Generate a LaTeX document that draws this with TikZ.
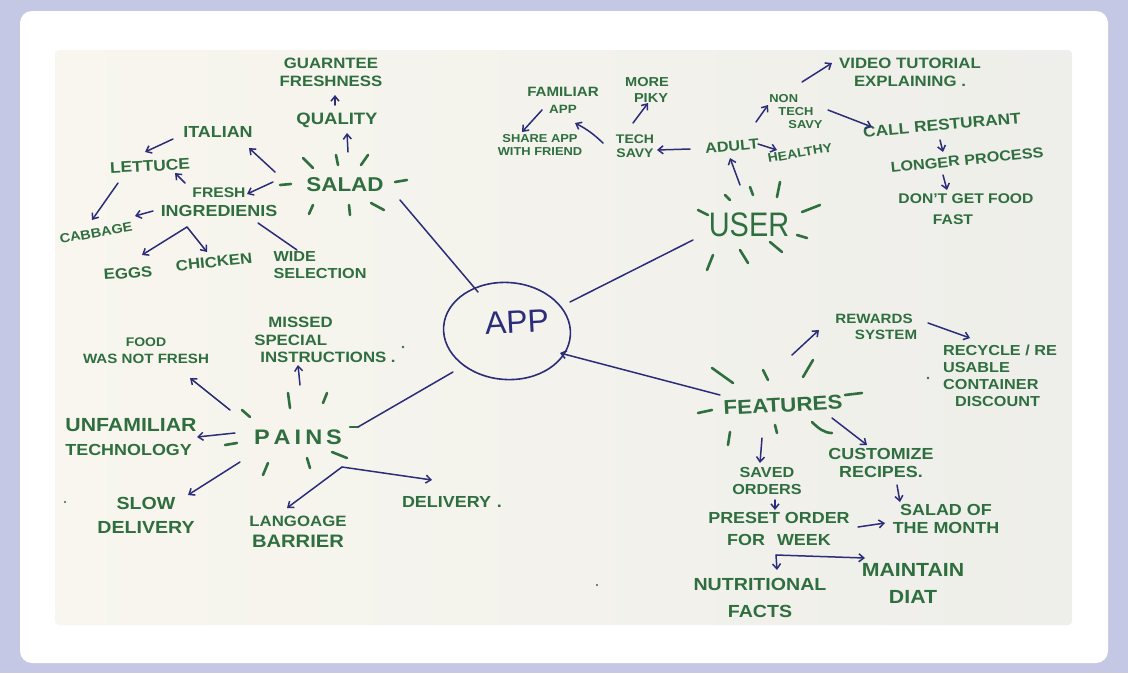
\documentclass[tikz,border=0pt]{standalone}
\usepackage{fontspec}
\setmainfont{Liberation Sans}[BoldFeatures={FakeStretch=1.12}]
\usetikzlibrary{arrows.meta,shapes.geometric}
\definecolor{lav}{RGB}{197,200,228}
\definecolor{boardA}{RGB}{248,246,238}
\definecolor{boardB}{RGB}{238,238,234}
\definecolor{mk}{RGB}{47,110,62}
\definecolor{nv}{RGB}{43,45,120}
\tikzset{
  g/.style 2 args={text=mk,font=\bfseries\fontsize{#1}{#2}\selectfont,align=center,inner sep=1pt},
  arr/.style={draw=nv,line width=1.5pt,line cap=round,-{Straight Barb[length=5pt,width=8pt]}},
  ln/.style={draw=nv,line width=1.5pt,line cap=round},
  ray/.style={draw=mk,line width=2.6pt,line cap=round},
  dot/.style={fill=mk,draw=none}
}
\begin{document}
\begin{tikzpicture}[x=1pt,y=-1pt]
\useasboundingbox (0,0) rectangle (1128,673);
\fill[lav] (0,0) rectangle (1128,673);
\fill[white,rounded corners=12pt] (20,11) rectangle (1108,663);
\shade[left color=boardA,right color=boardB,rounded corners=4pt] (55,50) rectangle (1072,625);

% ---------------- SALAD ----------------
\node[g={15}{18}] (guar) at (331,72) {GUARNTEE\\FRESHNESS};
\node[g={16.5}{20}] (quality) at (337,120) {QUALITY};
\node[g={16}{20}] (italian) at (218,132) {ITALIAN};
\node[g={15.5}{19},rotate=3] (lettuce) at (150,166) {LETTUCE};
\node[g={16}{19}] (fresh) at (219,202) {{\fontsize{14}{19}\selectfont FRESH}\\INGREDIENIS};
\node[g={13}{16},rotate=10] (cabbage) at (96,233) {CABBAGE};
\node[g={15}{18},rotate=4] (eggs) at (128,273) {EGGS};
\node[g={15}{18},rotate=6] (chicken) at (214,262) {CHICKEN};
\node[g={14.5}{17},align=left] (wide) at (320,265) {WIDE\\SELECTION};
\node[g={20}{24}] (salad) at (345,185) {SALAD};

\foreach \a/\b/\c/\d in {303/158/313/168,336/155/338/165,361/165/368/155,280/185/291/184,395/182/407/180,313/205/309/214,349/205/350/215,371/203/384/210}
  \draw[ray] (\a,\b) -- (\c,\d);

\draw[arr] ([shift={(3,-33)}]salad.center) -- ([shift={(10,13)}]quality.center);
\draw[arr] ([shift={(-2,-15)}]quality.center) -- ([shift={(4,23)}]guar.center);
\draw[arr] ([shift={(-70,-13)}]salad.center) -- ([shift={(31,16)}]italian.center);
\draw[arr] ([shift={(-72,-3)}]salad.center) -- ([shift={(28,-8)}]fresh.center);
\draw[arr] ([shift={(-45,7)}]italian.center) -- ([shift={(-5,-14)}]lettuce.center);
\draw[arr] ([shift={(-34,-19)}]fresh.center) -- ([shift={(25,7)}]lettuce.center);
\draw[arr] ([shift={(-66,9)}]fresh.center) -- ([shift={(39,-17)}]cabbage.center);
\draw[arr] ([shift={(-32,17)}]lettuce.center) -- ([shift={(-4,-13)}]cabbage.center);
\draw[arr] ([shift={(-32,25)}]fresh.center) -- ([shift={(14,-18)}]eggs.center);
\draw[arr] ([shift={(-32,25)}]fresh.center) -- ([shift={(-7,-10)}]chicken.center);
\draw[ln] ([shift={(39,21)}]fresh.center) -- ([shift={(-23,-15)}]wide.center);

% ---------------- APP ----------------
\node[draw=nv,line width=1.6pt,ellipse,minimum width=127pt,minimum height=97pt,inner sep=0pt,rotate=-4] (app) at (507,331) {};
\node[text=nv,font=\fontsize{32}{34}\selectfont,rotate=3] (apptxt) at (517,322) {APP};
\draw[ln] ([shift={(55,15)}]salad.center) -- ([shift={(-29,-39)}]app.center);

% ---------------- USER ----------------
\node[g={13.5}{17}] (familiar) at (563,100) {FAMILIAR\\{\fontsize{12}{17}\selectfont APP}};
\node[g={11.5}{13.5}] (share) at (540,145) {SHARE APP\\WITH FRIEND};
\node[g={13}{15.5}] (morepiky) at (647,90) {MORE\\\hspace*{8pt}PIKY};
\node[g={12.5}{14.5}] (techsavy) at (635,146) {TECH\\SAVY};
\node[g={14.5}{18},rotate=5] (adult) at (732,146) {ADULT};
\node[g={11.5}{13},align=left] (nontech) at (796,112) {NON\\\hspace*{9pt}TECH\\\hspace*{19pt}SAVY};
\node[g={12.5}{16},rotate=10] (healthy) at (800,153) {HEALTHY};
\node[g={15}{18}] (video) at (910,72) {VIDEO TUTORIAL\\EXPLAINING .};
\node[g={15.5}{19},rotate=5] (callr) at (942,125) {CALL RESTURANT};
\node[g={14.5}{18},rotate=6] (longer) at (967,160) {LONGER PROCESS};
\node[g={14}{21}] (dont) at (966,209) {DON'T GET FOOD\\FAST\hspace*{26pt}};
\node[text=mk,font=\fontsize{34}{36}\selectfont,xscale=0.85] (user) at (749,225) {USER};

\foreach \a/\b/\c/\d in {698/210/708/215,725/195/730/200,750/187/753/195,780/182/777/197,802/212/820/205,797/235/807/238,770/242/782/252,740/250/748/263,713/255/707/270}
  \draw[ray] (\a,\b) -- (\c,\d);

\draw[arr] ([shift={(-9,-40)}]user.center) -- ([shift={(-2,12)}]adult.center);
\draw[arr] ([shift={(-42,3)}]adult.center) -- ([shift={(22,4)}]techsavy.center);
\draw[arr] ([shift={(-2,-23)}]techsavy.center) -- ([shift={(1,13)}]morepiky.center);
\draw[arr] ([shift={(-32,-3)}]techsavy.center) to[bend right=8] ([shift={(35,-22)}]share.center);
\draw[arr] ([shift={(-21,10)}]familiar.center) -- ([shift={(-18,-13)}]share.center);
\draw[arr] ([shift={(24,-24)}]adult.center) -- ([shift={(-28,-7)}]nontech.center);
\draw[arr] ([shift={(26,-2)}]adult.center) -- ([shift={(-23,-3)}]healthy.center);
\draw[arr] ([shift={(6,-30)}]nontech.center) -- ([shift={(-78,-9)}]video.center);
\draw[arr] ([shift={(32,-2)}]nontech.center) -- ([shift={(-70,2)}]callr.center);
\draw[arr] ([shift={(-2,15)}]callr.center) -- ([shift={(-24,-8)}]longer.center);
\draw[arr] ([shift={(-24,15)}]longer.center) -- ([shift={(-19,-19)}]dont.center);
\draw[ln] ([shift={(-56,15)}]user.center) -- ([shift={(63,-29)}]app.center);

% ---------------- PAINS ----------------
\node[g={13.5}{17}] (food) at (146,351) {{\fontsize{12.5}{17}\selectfont FOOD}\\WAS NOT FRESH};
\node[g={15}{17.5},align=left] (missed) at (325,340) {\hspace*{14pt}MISSED\\SPECIAL\\\hspace*{6pt}INSTRUCTIONS .};
\node[g={16}{24},align=left] (unfam) at (131,437) {{\fontsize{19}{24}\selectfont UNFAMILIAR}\\TECHNOLOGY};
\node[g={17.5}{24}] (slow) at (146,515) {SLOW\\DELIVERY};
\node[g={18}{21}] (lang) at (298,532) {{\fontsize{15}{21}\selectfont LANGOAGE}\\BARRIER};
\node[g={16}{20}] (deliv) at (452,502) {DELIVERY\hspace{6pt}.};
\node[g={21}{25}] (pains) at (298,437) {P\hspace{4pt}A\hspace{4pt}I\hspace{4pt}N\hspace{4pt}S};

\foreach \a/\b/\c/\d in {242/410/250/417,288/393/290/408,327/393/323/403,225/445/237/443,350/427/358/427,268/463/263/475,307/458/310/468,332/452/347/458}
  \draw[ray] (\a,\b) -- (\c,\d);

\draw[arr] ([shift={(2,-52)}]pains.center) -- ([shift={(-27,25)}]missed.center);
\draw[arr] ([shift={(-68,-27)}]pains.center) -- ([shift={(44,27)}]food.center);
\draw[arr] ([shift={(-63,-4)}]pains.center) -- ([shift={(66,0)}]unfam.center);
\draw[arr] ([shift={(-58,25)}]pains.center) -- ([shift={(42,-20)}]slow.center);
\draw[arr] ([shift={(44,30)}]pains.center) -- ([shift={(-11,-24)}]lang.center);
\draw[arr] ([shift={(44,30)}]pains.center) -- ([shift={(-20,-22)}]deliv.center);
\draw[ln] ([shift={(60,-10)}]pains.center) -- ([shift={(-54,41)}]app.center);

% ---------------- FEATURES ----------------
\node[g={13.5}{16}] (rewards) at (874,327) {REWARDS\\\hspace*{24pt}SYSTEM};
\node[g={14.5}{17},align=left] (recycle) at (1000,376) {RECYCLE / RE\\USABLE\\CONTAINER\\\hspace*{12pt}DISCOUNT};
\node[g={20}{24},rotate=3] (features) at (783,405) {FEATURES};
\node[g={16}{18.5}] (customize) at (881,463) {CUSTOMIZE\\RECIPES.};
\node[g={14.5}{17}] (saved) at (767,481) {SAVED\\ORDERS};
\node[g={16}{22}] (preset) at (779,529) {PRESET ORDER\\FOR\hspace{12pt}WEEK};
\node[g={16}{18.5}] (salmonth) at (946,519) {SALAD OF\\THE MONTH};
\node[g={17.5}{27}] (nutri) at (760,598) {NUTRITIONAL\\FACTS};
\node[g={19}{27}] (maintain) at (913,583) {MAINTAIN\\DIAT};

\foreach \a/\b/\c/\d in {712/368/733/383,763/370/768/380,813/360/803/377,698/413/712/410,845/395/862/393,730/432/728/445,775/425/777/433}
  \draw[ray] (\a,\b) -- (\c,\d);
\draw[ray] (812,422) .. controls (818,428) and (824,433) .. (832,433);

\draw[arr] ([shift={(9,-50)}]features.center) -- ([shift={(-55,3)}]rewards.center);
\draw[arr] ([shift={(54,-4)}]rewards.center) -- ([shift={(-30,-38)}]recycle.center);
\draw[arr] ([shift={(-21,33)}]features.center) -- ([shift={(-7,-18)}]saved.center);
\draw[arr] ([shift={(49,13)}]features.center) -- ([shift={(-14,-18)}]customize.center);
\draw[arr] ([shift={(16,22)}]customize.center) -- ([shift={(-46,-17)}]salmonth.center);
\draw[arr] ([shift={(8,19)}]saved.center) -- ([shift={(-4,-19)}]preset.center);
\draw[arr] ([shift={(79,-2)}]preset.center) -- ([shift={(-61,4)}]salmonth.center);
\draw[arr] ([shift={(-3,26)}]preset.center) -- ([shift={(17,-28)}]nutri.center);
\draw[arr] ([shift={(-3,26)}]preset.center) -- ([shift={(-48,-25)}]maintain.center);
\draw[arr] ([shift={(-63,-10)}]features.center) -- ([shift={(53,22)}]app.center);

% stray marker dots
\fill[dot] (403,347) circle (1.3);
\fill[dot] (65,502) circle (1.1);
\fill[dot] (928,378) circle (1.3);
\fill[dot] (597,585) circle (1.1);
\end{tikzpicture}
\end{document}
